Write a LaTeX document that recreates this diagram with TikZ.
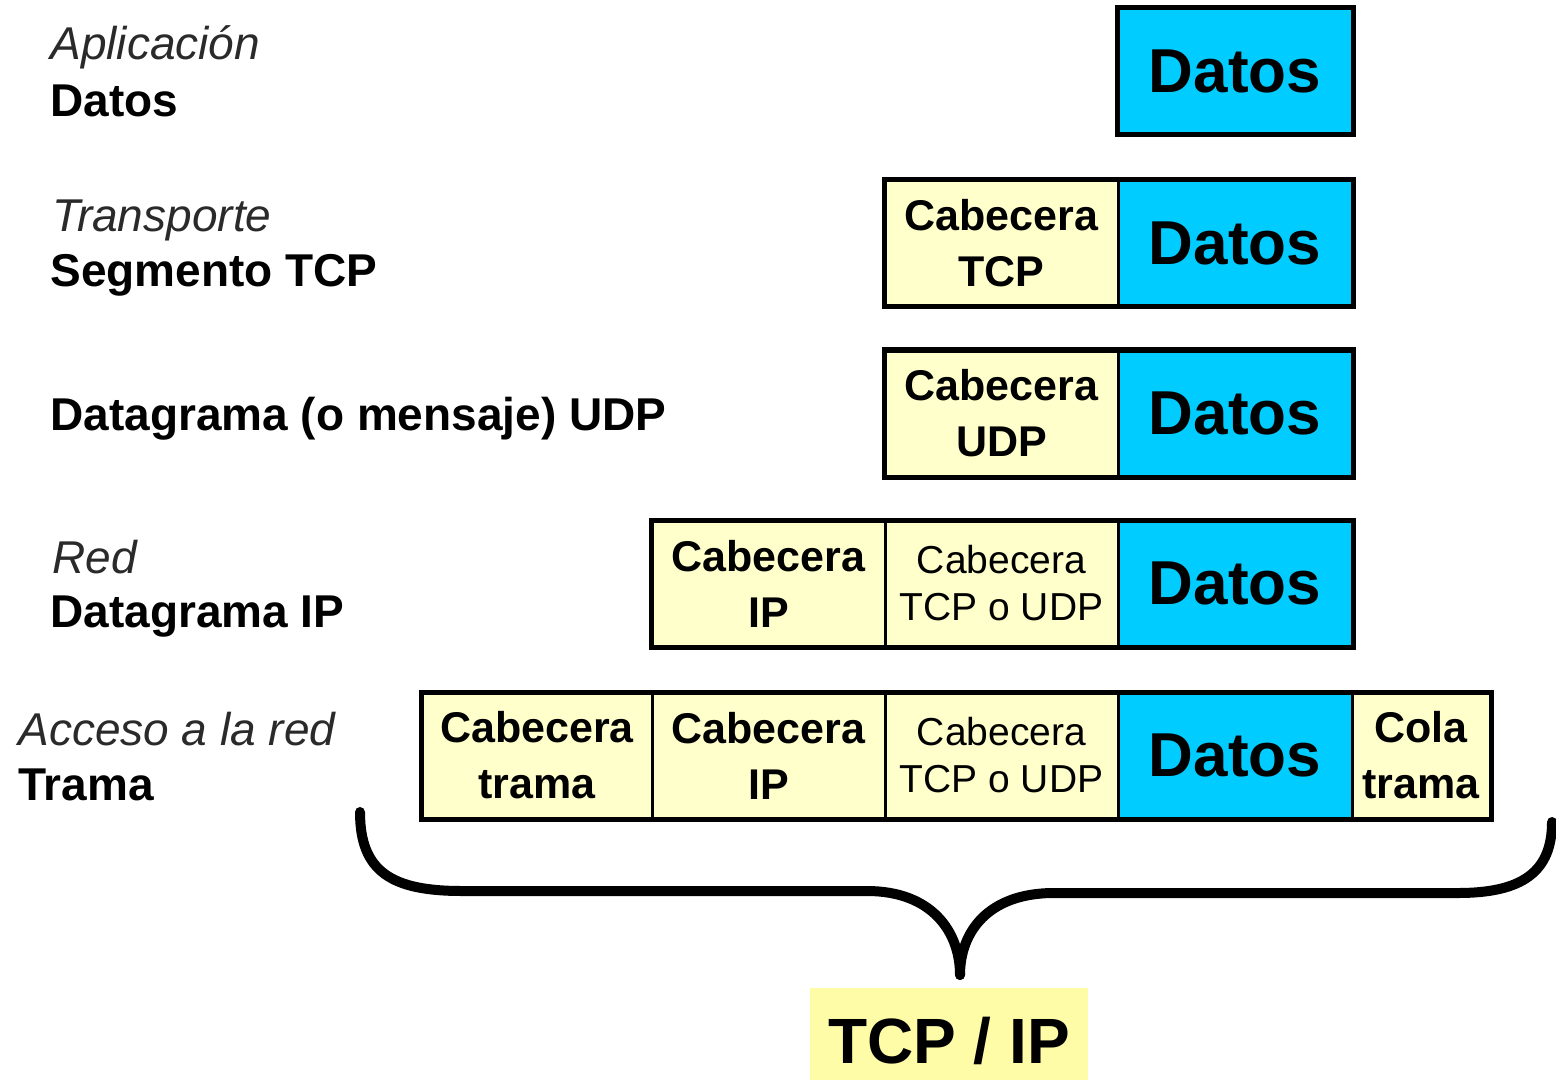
\documentclass[tikz,border=0pt]{standalone}
\usepackage{fontspec}
\setmainfont{Liberation Sans}
\definecolor{datoscol}{HTML}{00CCFF}
\definecolor{headcol}{HTML}{FFFFCC}
\definecolor{tagcol}{HTML}{FFFCA8}
\definecolor{itcol}{HTML}{2A2A2A}
\tikzset{
  cell/.style={draw=black, line width=1.5pt, inner sep=0pt, minimum height=62.5pt},
  datoscell/.style={cell, fill=datoscol, font=\fontsize{31}{31}\selectfont\bfseries},
  hdbold/.style={cell, fill=headcol, align=center, font=\fontsize{21.5}{28}\selectfont\bfseries},
  hdreg/.style={cell, fill=headcol, align=center, font=\fontsize{19.5}{23.5}\selectfont},
  frame/.style={draw=black, line width=2pt},
  lblit/.style={anchor=base west, inner sep=0pt, text=itcol, font=\fontsize{23}{23}\selectfont\itshape},
  lblbf/.style={anchor=base west, inner sep=0pt, font=\fontsize{23}{23}\selectfont\bfseries},
  bracestroke/.style={draw=black, line width=5pt, line cap=round, line join=round}
}
\begin{document}
\begin{tikzpicture}[x=0.5pt, y=-0.5pt]
\useasboundingbox (0,0) rectangle (1556,1080);
% left labels
\node[lblit] (l1a) at (50,60) {Aplicación};
\node[lblbf] (l1b) at (50,117) {Datos};
\node[lblit] (l2a) at (52,232) {Transporte};
\node[lblbf] (l2b) at (50,287) {Segmento TCP};
\node[lblbf] (l3b) at (50,430) {Datagrama (o mensaje) UDP};
\node[lblit] (l4a) at (52,573) {Red};
\node[lblbf] (l4b) at (50,627) {Datagrama IP};
\node[lblit] (l5a) at (18,745) {Acceso a la red};
\node[lblbf] (l5b) at (18,800) {Trama};
% row 1
\node[datoscell, minimum width=117pt] (r1d) at (1235,71.5) {Datos};
\draw[frame] (r1d.north west) rectangle (r1d.south east);
% row 2
\node[hdbold, minimum width=116.5pt] (r2c) at (1001.5,243) {Cabecera\\TCP};
\node[datoscell, minimum width=117pt] (r2d) at (1235,243) {Datos};
\draw[frame] (r2c.north west) rectangle (r2d.south east);
% row 3
\node[hdbold, minimum width=116.5pt] (r3c) at (1001.5,413.5) {Cabecera\\UDP};
\node[datoscell, minimum width=117pt] (r3d) at (1235,413.5) {Datos};
\draw[frame] (r3c.north west) rectangle (r3d.south east);
% row 4
\node[hdbold, minimum width=116.5pt] (r4b) at (768.5,583.5) {Cabecera\\IP};
\node[hdreg, minimum width=116.5pt] (r4c) at (1001.5,583.5) {Cabecera\\TCP o UDP};
\node[datoscell, minimum width=117pt] (r4d) at (1235,583.5) {Datos};
\draw[frame] (r4b.north west) rectangle (r4d.south east);
% row 5
\node[hdbold, minimum width=115pt] (r5a) at (537,755.5) {Cabecera\\trama};
\node[hdbold, minimum width=116.5pt] (r5b) at (768.5,755.5) {Cabecera\\IP};
\node[hdreg, minimum width=116.5pt] (r5c) at (1001.5,755.5) {Cabecera\\TCP o UDP};
\node[datoscell, minimum width=117pt] (r5d) at (1235,755.5) {Datos};
\node[hdbold, minimum width=69pt] (r5e) at (1421,755.5) {Cola\\trama};
\draw[frame] (r5a.north west) rectangle (r5e.south east);
% brace
\coordinate (bl) at (360,812);
\coordinate (br) at (1552,822);
\coordinate (tip) at (960,975);
\draw[bracestroke] (bl) .. controls (360,872) and (392,891) .. (462,891) -- (867,891) .. controls (932,891) and (960,932) .. (tip);
\draw[bracestroke] (br) .. controls (1552,872) and (1522,893) .. (1458,893) -- (1054,893) .. controls (988,893) and (960,932) .. (tip);
% TCP/IP tag
\node[fill=tagcol, inner sep=0pt, minimum width=139pt, minimum height=46pt] (tagbg) at (949,1034) {};
\node[inner sep=0pt, font=\fontsize{32}{32}\selectfont\bfseries] (tag) at (949,1041) {TCP / IP};
\end{tikzpicture}
\end{document}
